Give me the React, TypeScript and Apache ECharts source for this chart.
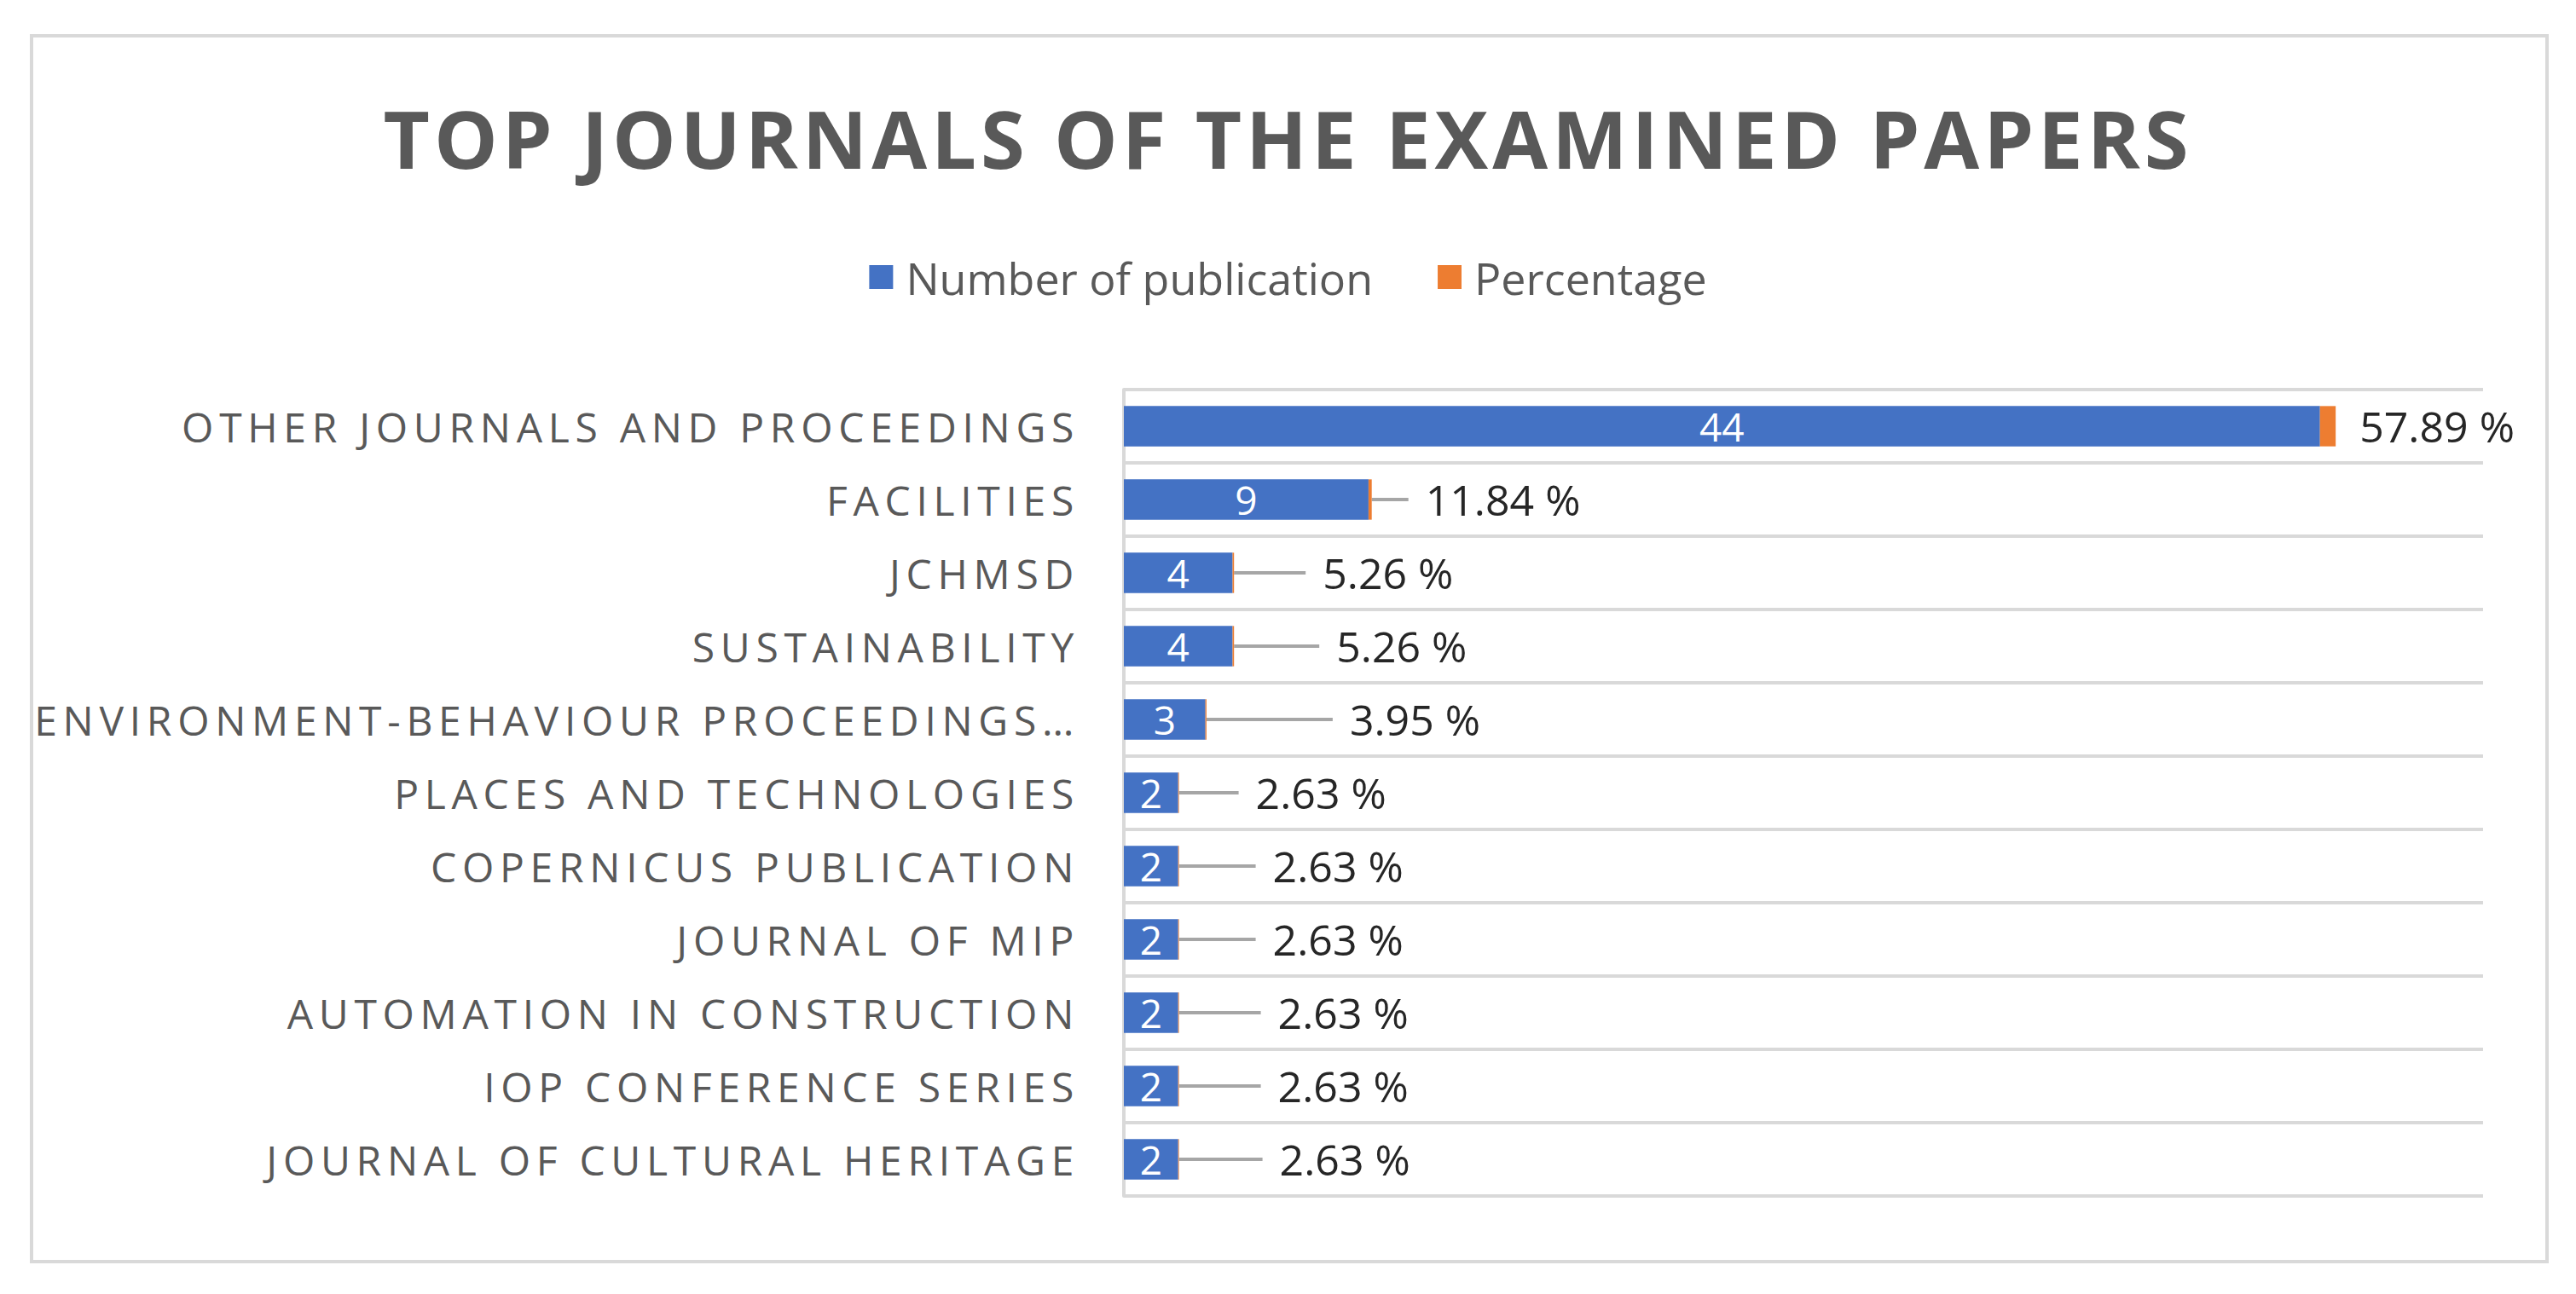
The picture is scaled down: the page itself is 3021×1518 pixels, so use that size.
import React, { useEffect, useRef } from "react";
import * as echarts from "echarts";

const TITLE = "TOP JOURNALS OF THE EXAMINED PAPERS";
const seriesNames = ["Number of publication", "Percentage"];
const categories = [
  "OTHER JOURNALS AND PROCEEDINGS",
  "FACILITIES",
  "JCHMSD",
  "SUSTAINABILITY",
  "ENVIRONMENT-BEHAVIOUR PROCEEDINGS…",
  "PLACES AND TECHNOLOGIES",
  "COPERNICUS PUBLICATION",
  "JOURNAL OF MIP",
  "AUTOMATION IN CONSTRUCTION",
  "IOP CONFERENCE SERIES",
  "JOURNAL OF CULTURAL HERITAGE",
];
const publications = [44, 9, 4, 4, 3, 2, 2, 2, 2, 2, 2];
const percentages = [0.5789, 0.1184, 0.0526, 0.0526, 0.0395, 0.0263, 0.0263, 0.0263, 0.0263, 0.0263, 0.0263];

// layout-only: horizontal offset of each percentage callout from its bar end
const percentLabelDx = [8, 43, 84, 100, 148, 70, 90, 90, 96, 96, 98];

const FONT = "'Open Sans', 'Noto Sans', sans-serif";

export default function App() {
  const ref = useRef<HTMLDivElement>(null);

  useEffect(() => {
    if (!ref.current) return;
    const chart = echarts.init(ref.current, undefined, { renderer: "svg" });

    const option: any = {
      animation: false,
      backgroundColor: "#ffffff",
      title: {
        text: TITLE,
        left: "center",
        top: 110,
        textStyle: { fontFamily: FONT, fontWeight: "bold", fontSize: 94, color: "#595959" },
      },
      legend: {
        data: seriesNames,
        top: 294,
        left: "center",
        icon: "rect",
        itemWidth: 28,
        itemHeight: 28,
        itemGap: 76,
        textStyle: { fontFamily: FONT, fontSize: 52, color: "#595959", padding: [0, 0, 0, 10] },
      },
      grid: { left: 1318, right: 109, top: 457, bottom: 115 },
      xAxis: { type: "value", min: 0, max: 50, show: false },
      yAxis: {
        type: "category",
        data: categories,
        inverse: true,
        axisLine: { show: true, lineStyle: { color: "#d9d9d9", width: 4 } },
        axisTick: { show: false },
        splitLine: { show: true, lineStyle: { color: "#d9d9d9", width: 4 } },
        axisLabel: { margin: 52, fontFamily: FONT, fontWeight: "normal", fontSize: 48, color: "#595959" },
      },
      series: [
        {
          name: seriesNames[0],
          type: "bar",
          stack: "total",
          data: publications,
          barCategoryGap: "45%",
          itemStyle: { color: "#4472C4" },
          label: { show: true, position: "inside", color: "#ffffff", fontFamily: FONT, fontSize: 46 },
        },
        {
          name: seriesNames[1],
          type: "bar",
          stack: "total",
          data: percentages.map((v, i) => ({ value: v, labelLine: { show: i > 0 } })),
          itemStyle: { color: "#ED7D31" },
          label: {
            show: true,
            position: "right",
            distance: 0,
            padding: [0, 0, 0, 20],
            backgroundColor: "rgba(255,255,255,0)",
            color: "#262626",
            fontFamily: FONT,
            fontSize: 50,
            formatter: (p: any) => (p.value * 100).toFixed(2) + " %",
          },
          labelLayout: (params: any) => ({ dx: percentLabelDx[params.dataIndex] }),
          labelLine: { show: true, lineStyle: { color: "#a6a6a6", width: 4 } },
        },
      ],
      graphic: [
        {
          type: "rect",
          silent: true,
          z: -1,
          shape: { x: 37, y: 42, width: 2950, height: 1438 },
          style: { fill: "none", stroke: "#d9d9d9", lineWidth: 4 },
        },
      ],
    };

    chart.setOption(option);

    const applySpacing = () => {
      const root = ref.current;
      if (!root) return;
      const texts = Array.from(root.querySelectorAll("text")) as any[];
      let catSpacing: number | null = null;
      texts.forEach((t) => {
        const s = t.textContent || "";
        if (s === categories[0] && catSpacing === null) {
          t.removeAttribute("letter-spacing");
          const w = t.getComputedTextLength();
          catSpacing = Math.max(0, (1053 - w) / s.length);
        }
      });
      texts.forEach((t) => {
        const s = t.textContent || "";
        if (s === TITLE) {
          t.removeAttribute("letter-spacing");
          const w = t.getComputedTextLength();
          const sp = Math.max(0, (2122 - w) / s.length);
          t.setAttribute("letter-spacing", sp.toFixed(2));
        } else if (categories.includes(s) && catSpacing !== null) {
          t.setAttribute("letter-spacing", (catSpacing as number).toFixed(2));
        }
      });
    };
    applySpacing();
    chart.on("finished", applySpacing);

    return () => {
      chart.dispose();
    };
  }, []);

  return (
    <div
      ref={ref}
      style={{ position: "absolute", left: 0, top: 0, width: 3021, height: 1518 }}
    />
  );
}
